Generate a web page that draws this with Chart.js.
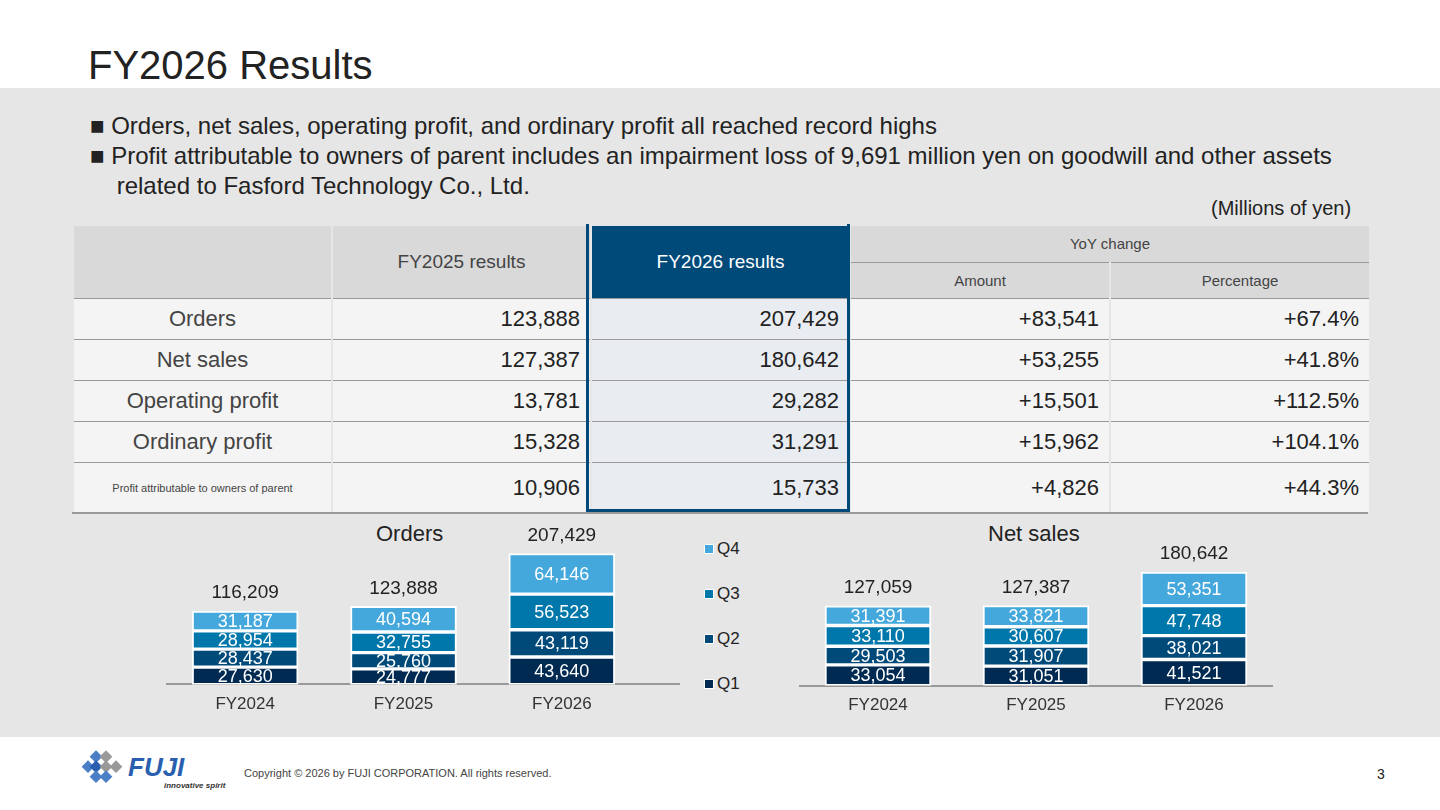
<!DOCTYPE html><html><head><meta charset="utf-8">
<script src="https://cdn.jsdelivr.net/npm/chart.js@4"></script>
<style>
body{margin:0;width:1440px;height:810px;position:relative;background:#fff;font-family:"Liberation Sans",Arial,sans-serif;overflow:hidden;color:#222}
.abs{position:absolute}
#band{left:0;top:88px;width:1440px;height:649px;background:#e6e6e6}
table{position:absolute;left:72px;top:226px;border-collapse:collapse;width:1296px;table-layout:fixed}
td{border-top:1px solid #9a9a9a;border-left:2px solid #e6e6e6;padding:0 10px;font-size:22px;background:#f4f4f4}
.h td{background:#d9d9d9;color:#444;font-size:15px;text-align:center}
.n{text-align:right}
.hl{background:#e9edf1}
</style></head><body>
<div class="abs" style="left:88px;top:43px;font-size:40px">FY2026 Results</div>
<div id="band" class="abs"></div>
<div class="abs" style="left:90px;top:111px;font-size:24px;line-height:30px">■ Orders, net sales, operating profit, and ordinary profit all reached record highs<br>■ Profit attributable to owners of parent includes an impairment loss of 9,691 million yen on goodwill and other assets<br>&nbsp;&nbsp;&nbsp;&nbsp;related to Fasford Technology Co., Ltd.</div>
<div class="abs" style="left:1211px;top:197px;font-size:20px">(Millions of yen)</div>
<table>
<colgroup><col style="width:259px"><col style="width:259px"><col style="width:259px"><col style="width:260px"><col style="width:259px"></colgroup>
<tr class="h" style="height:36px"><td rowspan="2" style="border-top:none"></td><td rowspan="2" style="font-size:19px;border-top:none">FY2025 results</td><td rowspan="2" style="font-size:19px;background:#004a7a;color:#fff;border-top:none">FY2026 results</td><td colspan="2" style="border-top:none">YoY change</td></tr>
<tr class="h" style="height:36px"><td>Amount</td><td>Percentage</td></tr>
<tbody id="tb"></tbody>
</table>
<div class="abs" style="left:586px;top:224px;width:258px;height:285px;border:3px solid #004a7a;border-top:none;pointer-events:none"></div>
<div class="abs" style="left:72px;top:512px;width:1296px;height:2px;background:#9a9a9a"></div>
<div class="abs" style="left:376px;top:521px;font-size:22px">Orders</div>
<div class="abs" style="left:988px;top:521px;font-size:22px">Net sales</div>
<div class="abs" id="leg" style="left:704px;top:526px;font-size:17px;line-height:45px"></div>
<div class="abs" style="left:166px;top:683px;width:514px;height:2px;background:#999"></div>
<div class="abs" style="left:166px;top:495px;width:475px;height:230px"><canvas id="c1"></canvas></div>
<div class="abs" style="left:799px;top:497px;width:474px;height:229px"><canvas id="c2"></canvas></div>
<svg class="abs" style="left:80px;top:750px" width="150" height="42"><g fill="#4a7fc8"><rect x="12" y="2" width="9" height="9" transform="rotate(45 16 6)"/><rect x="4" y="12" width="9" height="9" transform="rotate(45 8 16)"/><rect x="12" y="12" width="9" height="9" transform="rotate(45 16 16)" fill="#2a5fb0"/><rect x="12" y="22" width="9" height="9" transform="rotate(45 16 26)"/></g><g fill="#999"><rect x="22" y="12" width="9" height="9" transform="rotate(45 26 16)"/><rect x="22" y="2" width="9" height="9" transform="rotate(45 26 6)"/><rect x="32" y="12" width="9" height="9" transform="rotate(45 36 16)"/><rect x="22" y="22" width="9" height="9" transform="rotate(45 26 26)" fill="#4a7fc8"/></g><text x="48" y="26" font-size="26" font-weight="bold" font-style="italic" fill="#2a5fb0" font-family="Liberation Sans">FUJI</text><text x="84" y="38" font-size="8" font-style="italic" font-weight="bold" fill="#333">innovative spirit</text></svg>
<div class="abs" style="left:244px;top:767px;font-size:11px;color:#444">Copyright © 2026 by FUJI CORPORATION. All rights reserved.</div>
<div class="abs" style="left:1377px;top:766px;font-size:14px">3</div>
<script>
const rowLabels=["Orders","Net sales","Operating profit","Ordinary profit","Profit attributable to owners of parent"];
const fy2025=["123,888","127,387","13,781","15,328","10,906"];
const fy2026=["207,429","180,642","29,282","31,291","15,733"];
const yoyAmount=["+83,541","+53,255","+15,501","+15,962","+4,826"];
const yoyPct=["+67.4%","+41.8%","+112.5%","+104.1%","+44.3%"];
const years=["FY2024","FY2025","FY2026"];
const quarters=["Q1","Q2","Q3","Q4"];
const ordersQ=[[27630,24777,43640],[28437,25760,43119],[28954,32755,56523],[31187,40594,64146]];
const ordersTotal=[116209,123888,207429];
const salesQ=[[33054,31051,41521],[29503,31907,38021],[33110,30607,47748],[31391,33821,53351]];
const salesTotal=[127059,127387,180642];
const colors=["#002a52","#004a7a","#0077aa","#44a8dc"];

const tb=document.getElementById('tb');
rowLabels.forEach((l,i)=>{const tr=document.createElement('tr');tr.style.height=(i==4?51:41)+'px';
tr.innerHTML=`<td style="text-align:center;color:#444;${i==4?'font-size:11px':''}">${l}</td><td class="n">${fy2025[i]}</td><td class="n hl">${fy2026[i]}</td><td class="n">${yoyAmount[i]}</td><td class="n">${yoyPct[i]}</td>`;tb.appendChild(tr)});
document.getElementById('leg').innerHTML=quarters.slice().reverse().map((q,i)=>`<div><span style="display:inline-block;width:8px;height:8px;background:${colors[3-i]};border:1px solid #fff;margin-right:3px"></span>${q}</div>`).join('');

const labelPlugin={id:'lbl',afterDatasetsDraw(ch,a,o){const c=ch.ctx;c.save();c.textAlign='center';c.textBaseline='middle';c.font='18px "Liberation Sans"';
ch.data.datasets.forEach((d,di)=>{ch.getDatasetMeta(di).data.forEach((b,bi)=>{c.fillStyle='#fff';c.fillText(d.data[bi].toLocaleString('en-US'),b.x,(b.y+b.base)/2+1)})});
const top=ch.getDatasetMeta(3).data;c.fillStyle='#222';c.font='19px "Liberation Sans"';
o.totals.forEach((t,i)=>c.fillText(t.toLocaleString('en-US'),top[i].x,top[i].y-18));c.restore()}};
function mk(id,q,tot,ax){new Chart(document.getElementById(id),{type:'bar',
data:{labels:years,datasets:q.map((d,i)=>({label:quarters[i],data:d,backgroundColor:colors[i],borderColor:'#fff',borderWidth:2,borderSkipped:false,barThickness:106}))},
options:{responsive:true,maintainAspectRatio:false,animation:false,
plugins:{legend:{display:false},tooltip:{enabled:false},lbl:{totals:tot}},
scales:{x:{stacked:true,grid:{display:false,drawTicks:false},border:{color:ax?'#999':'rgba(0,0,0,0)',width:2},ticks:{color:'#333',font:{size:17,family:'Liberation Sans'},padding:10}},
y:{stacked:true,display:false,min:0,max:300000}}},plugins:[labelPlugin]})}
mk('c1',ordersQ,ordersTotal,false);mk('c2',salesQ,salesTotal,true);
</script></body></html>
